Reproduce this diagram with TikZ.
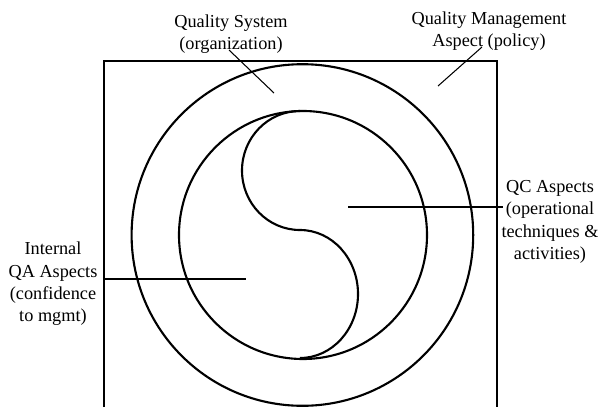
\documentclass[tikz,border=0pt]{standalone}
\usepackage{fontspec}
\setmainfont{Liberation Serif}
\tikzset{
  outline/.style={line width=1.5pt},
  leader/.style={line width=0.75pt},
  lbl/.style={font=\fontsize{13}{15.9}\selectfont, align=center, inner sep=0pt}
}
\begin{document}
\begin{tikzpicture}[scale=1, every node/.style={align=center}]
    \useasboundingbox (0,0) rectangle (14.95,10.175);

    % open box, cut by the lower edge
    \draw[outline] (2.6,0) |- (12.425,8.65) -- (12.425,0);

    \draw[outline] (7.56,4.3) circle (4.27);
    \draw[outline] (7.575,4.3) circle (3.1);
    \draw[outline] (7.5,7.4)
        arc[start angle=90, end angle=270, x radius=1.45, y radius=1.4875]
        arc[start angle=90, end angle=-90, x radius=1.45, y radius=1.6];

    \node[lbl] (qs) at (5.775,9.325) {Quality System\\(organization)};
    \node[lbl] (qm) at (12.225,9.39) {Quality Management\\Aspect (policy)};
    \node[lbl] (qc) at (13.75,4.625) {QC Aspects\\(operational\\techniques \&\\activities)};
    \node[lbl] (qa) at (1.325,3.075) {Internal\\QA Aspects\\(confidence\\to mgmt)};

    \coordinate (qsFrom) at (5.725,8.925);
    \coordinate (qsTo) at (6.85,7.85);
    \coordinate (qmFrom) at (12.05,9.0);
    \coordinate (qmTo) at (10.95,8.025);
    \coordinate (qcFrom) at (8.7,5.0);
    \coordinate (qcTo) at (12.575,5.0);
    \coordinate (qaFrom) at (2.575,3.2);
    \coordinate (qaTo) at (6.15,3.2);

    \draw[leader] (qsFrom) -- (qsTo);
    \draw[leader] (qmFrom) -- (qmTo);
    \draw[leader] (qcFrom) -- (qcTo);
    \draw[leader] (qaFrom) -- (qaTo);
\end{tikzpicture}
\end{document}
